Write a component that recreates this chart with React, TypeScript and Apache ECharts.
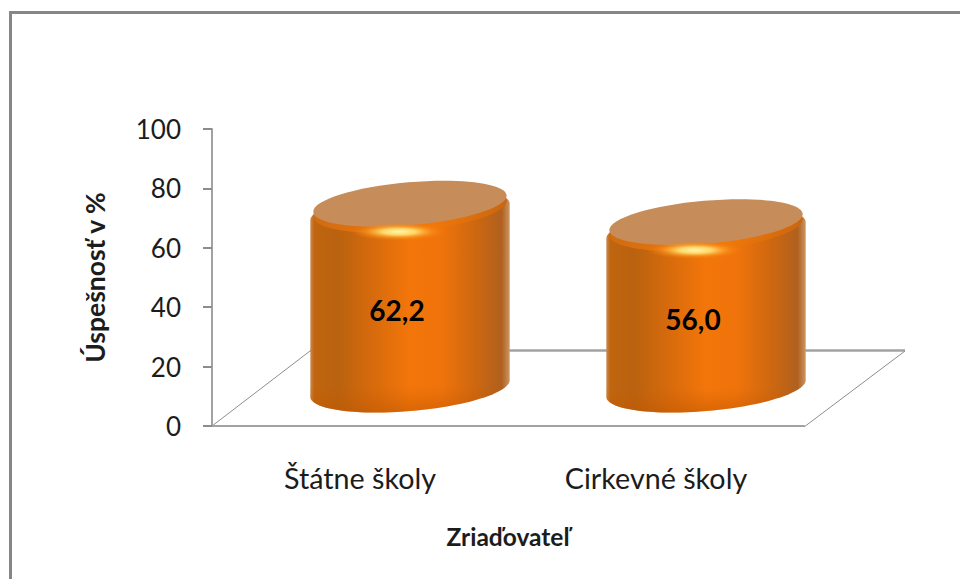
import React, { useEffect, useRef } from "react";
import * as echarts from "echarts";

const categories = ["Štátne školy", "Cirkevné školy"];
const values = [62.2, 56.0];
const yTicks = { min: 0, max: 100, interval: 20 };
const xTitle = "Zriaďovateľ";
const yTitle = "Úspešnosť v %";

const FONT = "Lato, Carlito, 'Noto Sans', sans-serif";
const TEXT = "#1c1c1c";
const AXIS = "#a2a2a2";
const DEPTH_X = 50;
const DEPTH_Y = 37.5;
const TILT = 5 * (Math.PI / 180);
const BAR_RATIO = 0.338;
const RADIUS_Y = 22.5;
const SHOULDER = 8;
const ARC_STEPS = 48;

function arcPoints(cx: number, cy: number, a: number, b: number, from: number) {
  const sin = Math.sin(TILT);
  const cos = Math.cos(TILT);
  const pts: number[][] = [];
  for (let i = 0; i <= ARC_STEPS; i++) {
    const t = from + (i / ARC_STEPS) * Math.PI;
    pts.push([
      cx + a * Math.cos(t) * cos + b * Math.sin(t) * sin,
      cy - a * Math.cos(t) * sin + b * Math.sin(t) * cos,
    ]);
  }
  return pts;
}

function renderCylinder(_params: any, api: any) {
  const cat = api.value(0);
  const val = api.value(1);
  const top = api.coord([cat, val]);
  const base = api.coord([cat, 0]);
  const a = api.size([1, 0])[0] * BAR_RATIO;
  const b = RADIUS_Y;
  const cx = top[0] + DEPTH_X;
  const ty = top[1] - DEPTH_Y;
  const by = base[1] - DEPTH_Y;
  const t0 = Math.atan2(b * Math.sin(TILT), a * Math.cos(TILT));
  const outline = [
    ...arcPoints(cx, by, a, b, t0),
    ...arcPoints(cx, ty + SHOULDER, a, b - 1, t0 + Math.PI),
  ];
  const sideFill = {
    type: "linear", x: 0, y: 0, x2: 1, y2: 0,
    colorStops: [
      { offset: 0, color: "#c98a50" },
      { offset: 0.02, color: "#c0650f" },
      { offset: 0.14, color: "#b9620f" },
      { offset: 0.32, color: "#d86b0c" },
      { offset: 0.5, color: "#f3760a" },
      { offset: 0.66, color: "#ef730b" },
      { offset: 0.82, color: "#cf680f" },
      { offset: 0.96, color: "#b0601e" },
      { offset: 1, color: "#cb9665" },
    ],
  };
  const rimFill = {
    type: "linear", x: 0, y: 0, x2: 1, y2: 0,
    colorStops: [
      { offset: 0, color: "#cf6c12" },
      { offset: 0.35, color: "#ec740a" },
      { offset: 0.6, color: "#f27808" },
      { offset: 1, color: "#c9660f" },
    ],
  };
  const glow = {
    type: "radial", x: 0.5, y: 0.5, r: 0.5,
    colorStops: [
      { offset: 0, color: "rgba(255,246,170,1)" },
      { offset: 0.35, color: "rgba(255,220,110,0.95)" },
      { offset: 0.7, color: "rgba(250,150,30,0.55)" },
      { offset: 1, color: "rgba(245,120,10,0)" },
    ],
  };
  const bottomShade = {
    type: "linear", x: 0, y: 0, x2: 0, y2: 1,
    colorStops: [
      { offset: 0, color: "rgba(200,90,0,0)" },
      { offset: 0.88, color: "rgba(200,90,0,0)" },
      { offset: 1, color: "rgba(190,85,0,0.5)" },
    ],
  };
  const tilted = (x: number, y: number, rx: number, ry: number, style: any) => ({
    type: "ellipse", x, y, rotation: TILT, shape: { cx: 0, cy: 0, rx, ry }, style,
  });
  return {
    type: "group",
    children: [
      { type: "polygon", shape: { points: outline }, style: { fill: sideFill } },
      { type: "polygon", shape: { points: outline }, style: { fill: bottomShade } },
      tilted(cx, ty + 5, a - 3, b, { fill: rimFill }),
      tilted(cx, ty, a - 3, b - 1, { fill: "#c68c5a" }),
      { type: "ellipse", shape: { cx: cx - 11, cy: ty + 28, rx: 48, ry: 9 }, style: { fill: glow } },
      { type: "text", x: cx - 13, y: (ty + by) / 2 + 14,
        style: { text: val.toFixed(1).replace(".", ","), x: 0, y: 0, fill: "#000", font: `bold 28px ${FONT}`, align: "center", verticalAlign: "middle" } },
    ],
  };
}

export default function App() {
  const ref = useRef<HTMLDivElement>(null);
  useEffect(() => {
    const chart = echarts.init(ref.current!, null, { renderer: "svg" });
    chart.setOption({
      animation: false,
      backgroundColor: "#fff",
      grid: { left: 212, right: 156, top: 129, bottom: 153 },
      xAxis: {
        type: "category",
        data: categories,
        name: xTitle,
        nameLocation: "middle",
        nameGap: 98,
        nameTextStyle: { fontFamily: FONT, fontSize: 24.5, fontWeight: "bold", color: TEXT },
        axisLine: { lineStyle: { color: AXIS, width: 2 } },
        axisTick: { show: false },
        axisLabel: { fontFamily: FONT, fontSize: 28.7, color: TEXT, margin: 37 },
      },
      yAxis: {
        type: "value",
        ...yTicks,
        name: yTitle,
        nameLocation: "middle",
        nameGap: 104,
        nameTextStyle: { fontFamily: FONT, fontSize: 26.5, fontWeight: "bold", color: TEXT },
        axisLine: { show: true, lineStyle: { color: AXIS, width: 2 } },
        axisTick: { show: true, length: 9, lineStyle: { color: "#8c8c8c", width: 2 } },
        axisLabel: { fontFamily: FONT, fontSize: 26, color: TEXT, margin: 31 },
        splitLine: { show: false },
      },
      graphic: [
        { type: "line", z: 0, shape: { x1: 10.5, y1: 11, x2: 10.5, y2: 579 }, style: { stroke: "#868686", lineWidth: 3 } },
        { type: "line", z: 0, shape: { x1: 9, y1: 12.5, x2: 960, y2: 12.5 }, style: { stroke: "#868686", lineWidth: 3 } },
        { type: "polyline", z: 0, shape: { points: [[212, 426], [310, 351]] }, style: { stroke: "#8e8e8e", lineWidth: 1, fill: "none" } },
        { type: "line", z: 0, shape: { x1: 310, y1: 350.5, x2: 905, y2: 350.5 }, style: { stroke: "#a2a2a2", lineWidth: 2.5 } },
        { type: "polyline", z: 0, shape: { points: [[804, 427], [905, 351]] }, style: { stroke: "#8e8e8e", lineWidth: 1, fill: "none" } },
      ],
      series: [
        {
          type: "custom",
          coordinateSystem: "cartesian2d",
          clip: false,
          data: values.map((v, i) => [i, v]),
          encode: { x: 0, y: 1 },
          renderItem: renderCylinder,
        },
      ],
    });
    return () => chart.dispose();
  }, []);
  return <div ref={ref} style={{ position: "fixed", left: 0, top: 0, width: 960, height: 579 }} />;
}
